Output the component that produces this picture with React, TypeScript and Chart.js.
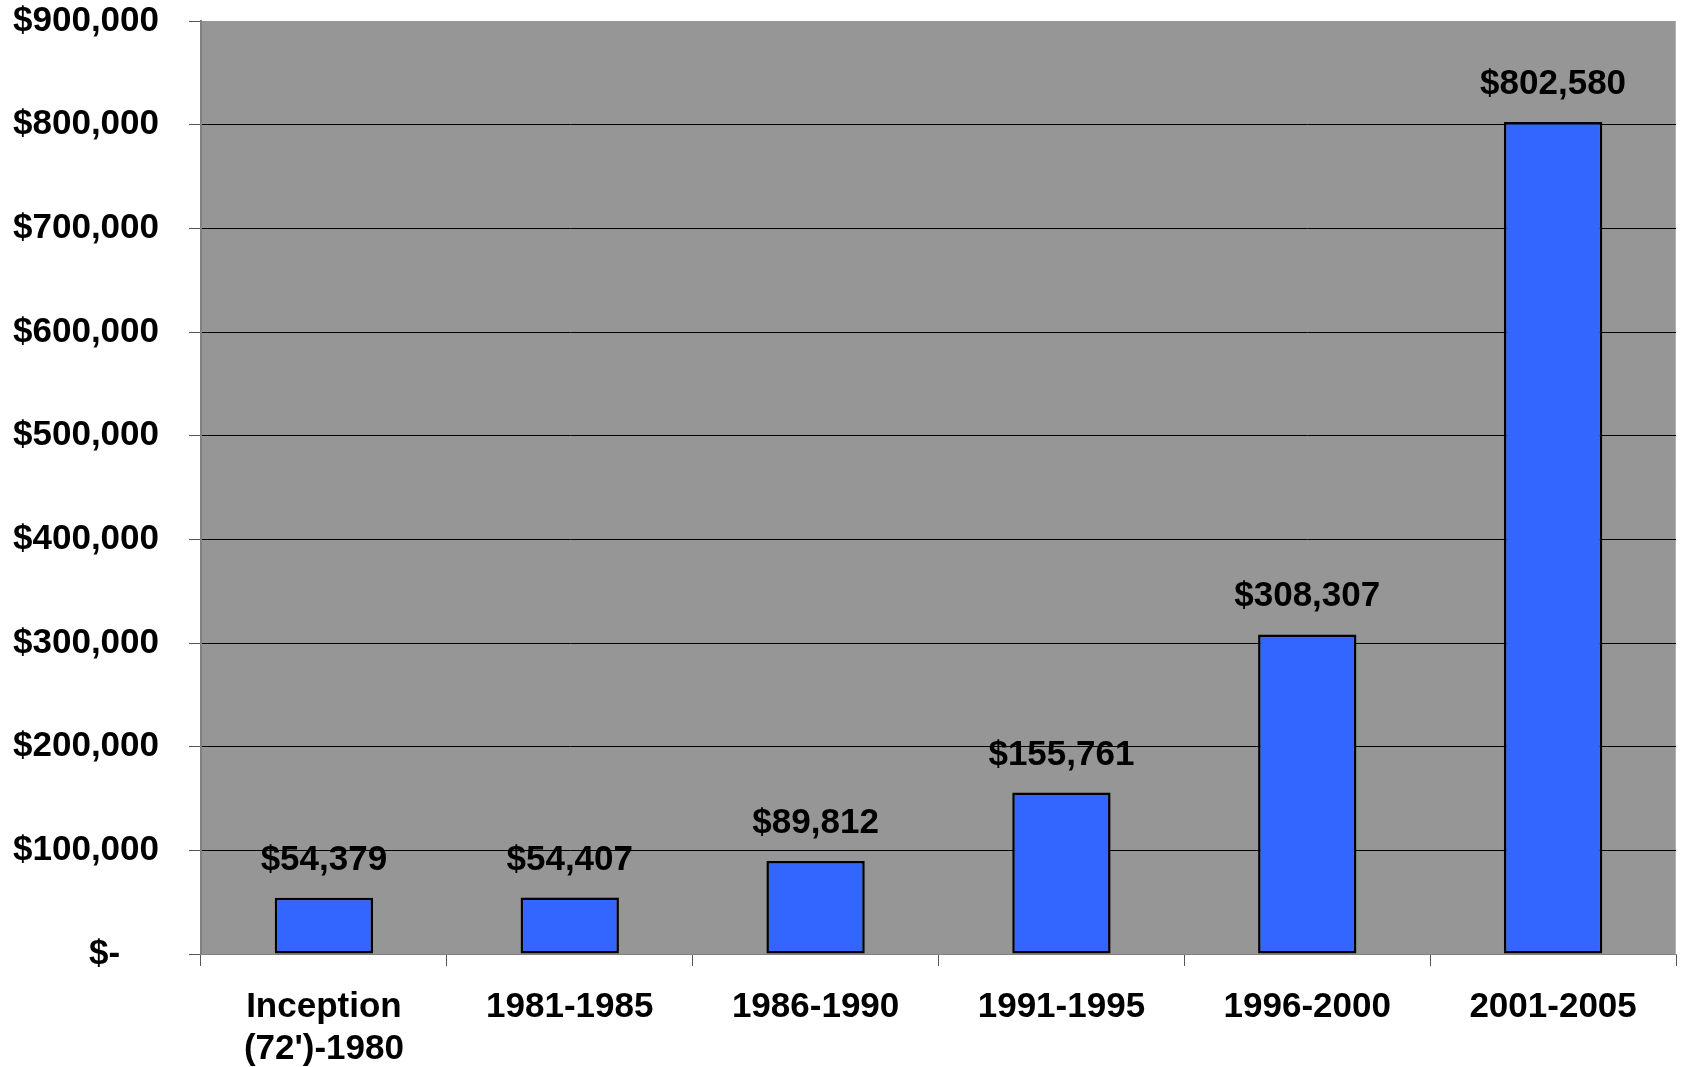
import React, { useEffect, useRef } from "react";
import { Chart, registerables } from "chart.js";

Chart.register(...registerables);

const categories: (string | string[])[] = [
  ["Inception", "(72')-1980"],
  "1981-1985",
  "1986-1990",
  "1991-1995",
  "1996-2000",
  "2001-2005",
];
const values: number[] = [54379, 54407, 89812, 155761, 308307, 802580];
const yTicks: number[] = [0, 100000, 200000, 300000, 400000, 500000, 600000, 700000, 800000, 900000];

const FONT = "'Liberation Sans', Arial, Helvetica, sans-serif";

const fmt = (v: number) => "$" + v.toLocaleString("en-US");

export default function App() {
  const ref = useRef<HTMLCanvasElement | null>(null);

  useEffect(() => {
    document.body.style.margin = "0";
    const canvas = ref.current;
    if (!canvas) return;

    const bgPlugin = {
      id: "plotBg",
      beforeDraw(chart: any) {
        const { ctx, chartArea } = chart;
        ctx.save();
        ctx.fillStyle = "#969696";
        ctx.fillRect(chartArea.left, chartArea.top, chartArea.right - chartArea.left, chartArea.bottom - chartArea.top);
        ctx.strokeStyle = "#b0b0b0";
        ctx.lineWidth = 1;
        ctx.beginPath();
        ctx.moveTo(chartArea.right - 0.5, chartArea.top);
        ctx.lineTo(chartArea.right - 0.5, chartArea.bottom);
        ctx.stroke();
        ctx.restore();
      },
    };

    const labelPlugin = {
      id: "barLabels",
      afterDatasetsDraw(chart: any) {
        const { ctx } = chart;
        const meta = chart.getDatasetMeta(0);
        ctx.save();
        ctx.font = `bold 35px ${FONT}`;
        ctx.fillStyle = "#000";
        ctx.textAlign = "center";
        ctx.textBaseline = "alphabetic";
        meta.data.forEach((bar: any, i: number) => {
          ctx.fillText(fmt(values[i]), bar.x, bar.y - 28);
        });
        ctx.restore();
      },
    };

    const chart = new Chart(canvas, {
      type: "bar",
      data: {
        labels: categories,
        datasets: [
          {
            data: values,
            backgroundColor: "#3366FF",
            borderColor: "#000000",
            borderWidth: 2.5,
            borderSkipped: false,
            barPercentage: 0.4,
            categoryPercentage: 1,
          },
        ],
      },
      options: {
        animation: false,
        responsive: false,
        devicePixelRatio: 1,
        layout: { padding: { top: 21, right: 5, left: 0, bottom: 0 } },
        plugins: {
          legend: { display: false },
          tooltip: { enabled: false },
        },
        scales: {
          x: {
            offset: true,
            grid: {
              offset: true,
              drawOnChartArea: false,
              drawTicks: true,
              tickLength: 12,
              color: "#555",
            },
            border: { color: "#808080", width: 1 },
            ticks: {
              color: "#000",
              padding: 20,
              font: { family: FONT, size: 35, weight: "bold" },
              maxRotation: 0,
              autoSkip: false,
            },
            afterFit(scale: any) {
              scale.height = 113;
              scale.paddingLeft = 0;
              scale.paddingRight = 0;
            },
          },
          y: {
            min: 0,
            max: 900000,
            afterBuildTicks(scale: any) {
              scale.ticks = yTicks.map((v) => ({ value: v }));
            },
            grid: {
              color: (c: any) =>
                c.tick && (c.tick.value === 900000 || c.tick.value === 0) ? "rgba(0,0,0,0)" : "#000",
              lineWidth: 1,
              tickLength: 12,
              tickColor: "#555",
            },
            border: { color: "#808080", width: 2 },
            ticks: {
              color: "#000",
              padding: 30,
              font: { family: FONT, size: 35, weight: "bold" },
              callback: (v: any) => (Number(v) === 0 ? "$-    " : fmt(Number(v))),
            },
            afterFit(scale: any) {
              scale.width = 201;
              scale.paddingTop = 0;
              scale.paddingBottom = 0;
            },
          },
        },
      },
      plugins: [bgPlugin, labelPlugin],
    });

    return () => chart.destroy();
  }, []);

  return (
    <div style={{ width: 1681, height: 1067 }}>
      <canvas ref={ref} width={1681} height={1067} />
    </div>
  );
}
